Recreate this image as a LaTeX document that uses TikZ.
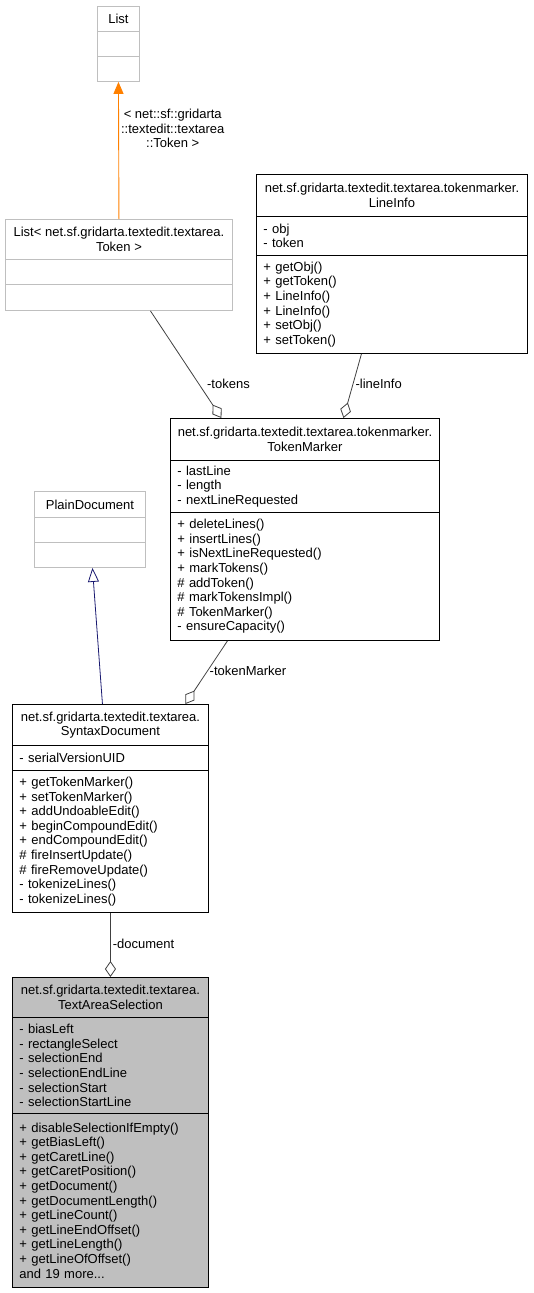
\documentclass[tikz,border=0pt]{standalone}
\usepackage{fontspec}
\setmainfont{Liberation Sans}
\usetikzlibrary{arrows.meta}
\definecolor{grey75}{RGB}{191,191,191}
\definecolor{grey25}{RGB}{64,64,64}
\definecolor{navy}{RGB}{25,25,112}
\begin{document}
\begin{tikzpicture}[x=1pt,y=-1pt]
	\tikzstyle{Part} = [draw, rectangle, anchor=north west, inner xsep=7pt, inner ysep=2pt, line width=0.9pt, font=\fontsize{13}{14.6}\selectfont]
	\tikzstyle{Head} = [Part, align=center]
	\tikzstyle{Body} = [Part, align=left]
	\tikzstyle{Ghost} = [draw=grey75]
	\tikzstyle{Label} = [text=black, font=\fontsize{13}{14.6}\selectfont, inner sep=2pt, anchor=west]
	\tikzstyle{Comp} = [grey25, line width=0.8pt, -{Diamond[open, fill=white, length=16pt, width=11pt]}]
	\useasboundingbox (0,0) rectangle (533,1293);
	% List
	\node (listT) at (97,6) [Head, Ghost, minimum width=42pt, minimum height=25pt] {List};
	\node (listA) at (97,31) [Part, Ghost, minimum width=42pt, minimum height=25pt] {};
	\node (listC) at (97,56) [Part, Ghost, minimum width=42pt, minimum height=25pt] {};
	% List< Token >
	\node (ltT) at (5,219) [Head, Ghost, minimum width=227pt, minimum height=40pt] {List< net.sf.gridarta.textedit.textarea.\\Token >};
	\node (ltA) at (5,259) [Part, Ghost, minimum width=227pt, minimum height=25pt] {};
	\node (ltB) at (5,284) [Part, Ghost, minimum width=227pt, minimum height=26pt] {};
	% LineInfo
	\node (liT) at (256,174) [Head, minimum width=271pt, minimum height=42pt] {net.sf.gridarta.textedit.textarea.tokenmarker.\\LineInfo};
	\node (liA) at (256,216) [Body, text width=257pt, minimum height=39pt] {- obj\\- token};
	\node (liB) at (256,255) [Body, text width=257pt, minimum height=98pt] {+ getObj()\\+ getToken()\\+ LineInfo()\\+ LineInfo()\\+ setObj()\\+ setToken()};
	% TokenMarker
	\node (tmT) at (170,418) [Head, minimum width=269pt, minimum height=42pt] {net.sf.gridarta.textedit.textarea.tokenmarker.\\TokenMarker};
	\node (tmA) at (170,460) [Body, text width=255pt, minimum height=52pt] {- lastLine\\- length\\- nextLineRequested};
	\node (tmB) at (170,512) [Body, text width=255pt, minimum height=128pt] {+ deleteLines()\\+ insertLines()\\+ isNextLineRequested()\\+ markTokens()\\\# addToken()\\\# markTokensImpl()\\\# TokenMarker()\\- ensureCapacity()};
	% PlainDocument
	\node (plT) at (34,491) [Head, Ghost, minimum width=111pt, minimum height=26pt] {PlainDocument};
	\node (plA) at (34,517) [Part, Ghost, minimum width=111pt, minimum height=25pt] {};
	\node (plC) at (34,542) [Part, Ghost, minimum width=111pt, minimum height=25pt] {};
	% SyntaxDocument
	\node (syT) at (12,704) [Head, minimum width=196pt, minimum height=41pt] {net.sf.gridarta.textedit.textarea.\\SyntaxDocument};
	\node (syA) at (12,745) [Body, text width=182pt, minimum height=25pt] {- serialVersionUID};
	\node (syB) at (12,770) [Body, text width=182pt, minimum height=142pt] {+ getTokenMarker()\\+ setTokenMarker()\\+ addUndoableEdit()\\+ beginCompoundEdit()\\+ endCompoundEdit()\\\# fireInsertUpdate()\\\# fireRemoveUpdate()\\- tokenizeLines()\\- tokenizeLines()};
	% TextAreaSelection
	\node (tasT) at (12,977) [Head, fill=grey75, minimum width=196pt, minimum height=40pt] {net.sf.gridarta.textedit.textarea.\\TextAreaSelection};
	\node (tasA) at (12,1017) [Body, fill=grey75, text width=182pt, minimum height=96pt] {- biasLeft\\- rectangleSelect\\- selectionEnd\\- selectionEndLine\\- selectionStart\\- selectionStartLine};
	\node (tasB) at (12,1113) [Body, fill=grey75, text width=182pt, minimum height=174pt] {+ disableSelectionIfEmpty()\\+ getBiasLeft()\\+ getCaretLine()\\+ getCaretPosition()\\+ getDocument()\\+ getDocumentLength()\\+ getLineCount()\\+ getLineEndOffset()\\+ getLineLength()\\+ getLineOfOffset()\\and 19 more...};
	% connectors
	\draw [orange, line width=0.9pt, -{Triangle[length=12pt, width=10pt]}] (ltT.north) to node[Label, pos=0.66, align=center] {< net::sf::gridarta\\::textedit::textarea\\::Token >} (listC.south);
	\draw [Comp] ([xshift=31.5pt]ltB.south) to node[Label, pos=0.68, xshift=6pt] {-tokens} ([xshift=-83.5pt]tmT.north);
	\draw [Comp] ([xshift=-30.5pt]liB.south) to node[Label, pos=0.46] {-lineInfo} ([xshift=38.5pt]tmT.north);
	\draw [Comp] ([xshift=-77.5pt]tmB.south) to node[Label, pos=0.48] {-tokenMarker} ([xshift=75pt]syT.north);
	\draw [navy, line width=0.8pt, -{Triangle[open, fill=white, length=14pt, width=11pt]}] ([xshift=-8pt]syT.north) to ([xshift=2.5pt]plC.south);
	\draw [Comp] (syB.south) to node[Label, pos=0.48] {-document} (tasT.north);
\end{tikzpicture}
\end{document}
